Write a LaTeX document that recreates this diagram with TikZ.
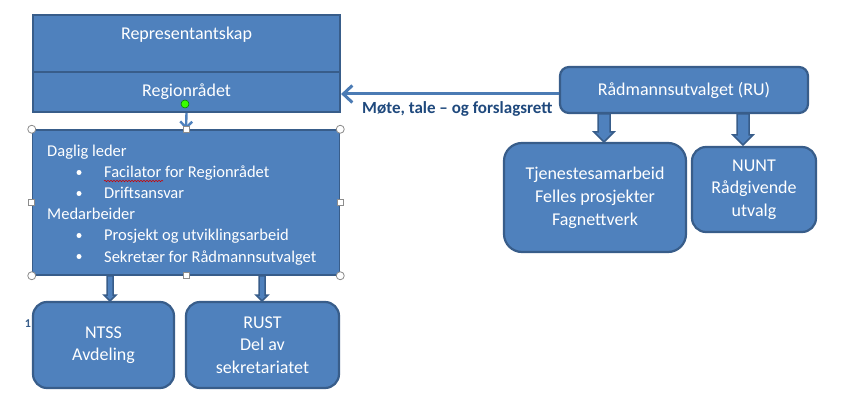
\documentclass[tikz,border=0pt]{standalone}
\usepackage{fontspec}
\setmainfont{Carlito}
\usetikzlibrary{arrows.meta,calc,decorations.pathmorphing}
\definecolor{fillb}{HTML}{4F81BD}
\definecolor{edgeb}{HTML}{385D8A}
\definecolor{labb}{HTML}{1F497D}
\definecolor{handleg}{HTML}{8C8C8C}
\newcommand\fatarrow[5]{%
  \draw[fatar] ($(#1)+(-#3,0)$) -- ($(#2)+(-#3,-#5)$) -- ($(#2)+(-#4,-#5)$) -- (#2)
    -- ($(#2)+(#4,-#5)$) -- ($(#2)+(#3,-#5)$) -- ($(#1)+(#3,0)$) -- cycle;}
\tikzset{
  box/.style={draw=edgeb, line width=2.2pt, fill=fillb, text=white,
    font=\fontsize{18}{22.5}\selectfont, align=center, inner sep=0pt},
  rbox/.style={box, rounded corners=#1},
  wtxt/.style={text=white, font=\fontsize{18}{22.5}\selectfont, inner sep=0pt},
  ltxt/.style={text=white, font=\fontsize{16.5}{21}\selectfont, inner sep=0pt, anchor=base west},
  bul/.style={circle, fill=white, inner sep=0pt, minimum size=5pt},
  fatar/.style={fill=fillb, draw=edgeb, line width=1.5pt, line join=miter},
  ring/.style={circle, draw=handleg, fill=white, line width=0.8pt, inner sep=0pt, minimum size=8pt},
  sqh/.style={rectangle, draw=handleg, fill=white, line width=0.8pt, inner sep=0pt, minimum size=6pt},
}
\begin{document}
\begin{tikzpicture}[x=1pt,y=-1pt]
\useasboundingbox (0,0) rectangle (842,411);
\fill[white] (0,0) rectangle (842,411);

% top left stacked boxes
\node[box, minimum width=307pt, minimum height=57pt] (rep) at (186.5,43.5) {};
\node[wtxt] (repT) at (186.5,35) {Representantskap};
\node[box, minimum width=307pt, minimum height=40pt] (reg) at (186.5,92) {Regionrådet};

% Daglig leder box
\node[draw=edgeb, line width=1.5pt, fill=fillb, minimum width=307pt, minimum height=145pt, inner sep=0pt] (dag) at (186,202.5) {};
\node[ltxt] (t1) at (47,157) {Daglig leder};
\node[bul] (b1) at (79,172.5) {};
\node[ltxt] (t2) at (104,178) {Facilator for Regionrådet};
\node[bul] (b2) at (79,193.5) {};
\node[ltxt] (t3) at (104,199) {Driftsansvar};
\node[ltxt] (t4) at (47,220) {Medarbeider};
\node[bul] (b3) at (79,235.5) {};
\node[ltxt] (t5) at (104,241) {Prosjekt og utviklingsarbeid};
\node[bul] (b4) at (79,256.5) {};
\node[ltxt] (t6) at (104,262) {Sekretær for Rådmannsutvalget};
\draw[red!80!black, line width=0.6pt, decorate, decoration={snake, amplitude=0.7pt, segment length=3pt}]
  (t2.base west) ++(0,3) coordinate (sq1) -- ++(59,0) coordinate (sq2);

% arrow Regionrådet -> Daglig leder
\draw[fillb, line width=2.4pt, -{Straight Barb[length=6pt,width=12pt]}] (reg.south) -- (dag.north);
\node[circle, fill=green!70!lime, draw=green!45!black, line width=0.5pt, inner sep=0pt, minimum size=8pt] (gdot) at (185,104) {};

% selection handles
\node[ring] (h1) at (dag.north west) {};
\node[ring] (h2) at (dag.north east) {};
\node[ring] (h3) at (dag.south west) {};
\node[ring] (h4) at (dag.south east) {};
\node[sqh] (h5) at (dag.north) {};
\node[sqh] (h6) at (dag.south) {};
\node[sqh] (h7) at (dag.west) {};
\node[sqh] (h8) at (dag.east) {};

% bottom left boxes
\node[rbox=14pt, minimum width=141pt, minimum height=86pt] (ntss) at (103.5,345) {NTSS\\Avdeling};
\node[rbox=14pt, minimum width=153pt, minimum height=86pt] (rust) at (262.5,345) {RUST\\Del av\\sekretariatet};
\node[text=edgeb, font=\bfseries\fontsize{12}{12}\selectfont, inner sep=0pt] (one) at (28,324) {1};

\coordinate (d1) at (110,276);
\coordinate (n1) at (110,301);
\coordinate (d2) at (262,276);
\coordinate (n2) at (262,301);
\fatarrow{d1}{n1}{3}{6}{6}
\fatarrow{d2}{n2}{3}{6}{6}

% right side
\node[rbox=9pt, minimum width=248pt, minimum height=46pt] (ru) at (684,90) {Rådmannsutvalget (RU)};
\node[rbox=18pt, minimum width=182pt, minimum height=109pt, font=\fontsize{18}{23}\selectfont] (tj) at (595,197.5) {Tjenestesamarbeid\\Felles prosjekter\\Fagnettverk};
\node[rbox=14pt, minimum width=124pt, minimum height=85pt, font=\fontsize{18}{22.5}\selectfont] (nunt) at (754,189.5) {NUNT\\Rådgivende\\utvalg};

\coordinate (r1) at (604,114);
\coordinate (e1) at (604,142);
\coordinate (r2) at (743,114);
\coordinate (e2) at (743,145);
\fatarrow{r1}{e1}{6}{10}{10}
\fatarrow{r2}{e2}{6}{10}{10}

% main horizontal connector
\draw[fillb!95!black, line width=3pt, -{Straight Barb[length=9pt,width=17pt]}] (ru.west |- 0,94) -- (reg.east |- 0,94);
\node[anchor=base west, text=labb, font=\bfseries\fontsize{17}{20}\selectfont, inner sep=0pt] (lab) at (362,114) {Møte, tale – og forslagsrett};
\end{tikzpicture}
\end{document}
